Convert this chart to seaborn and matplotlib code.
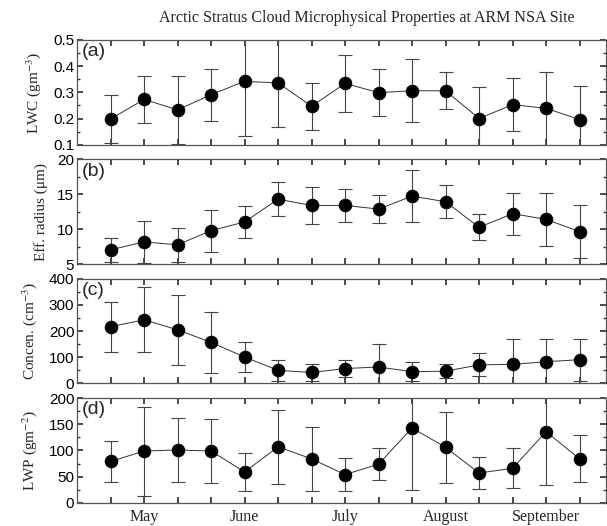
import numpy as np
import pandas as pd
import matplotlib
matplotlib.use("Agg")
import matplotlib.pyplot as plt
import seaborn as sns
from matplotlib.ticker import MultipleLocator

# 10-day bins, May through September
bins = list(range(1, 16))
months = ["May", "June", "July", "August", "September"]
month_pos = [2, 5, 8, 11, 14]

lwc = [0.198, 0.273, 0.233, 0.291, 0.342, 0.336, 0.247, 0.334, 0.299, 0.306, 0.306, 0.200, 0.253, 0.239, 0.196]
lwc_sd = [0.09, 0.09, 0.13, 0.10, 0.21, 0.17, 0.09, 0.11, 0.09, 0.12, 0.07, 0.122, 0.10, 0.139, 0.13]

reff = [7.04, 8.18, 7.76, 9.8, 11.03, 14.3, 13.4, 13.4, 12.88, 14.73, 13.93, 10.27, 12.22, 11.41, 9.65]
reff_sd = [1.69, 3.0, 2.4, 3.0, 2.35, 2.43, 2.7, 2.33, 2.0, 3.75, 2.33, 1.88, 3.0, 3.75, 3.78]

conc = [217, 243, 205, 157, 101, 50, 42, 57, 63, 45, 47, 71, 73, 83, 91]
conc_sd = [95, 124, 134, 117, 58, 39, 32, 34, 86, 37, 28, 44, 96, 86, 80]

lwp = [79, 99, 101, 99, 59, 107, 84, 54, 74, 143, 106, 57, 66, 136, 84]
lwp_sd = [40, 85, 61, 61, 36, 71, 61, 31, 30, 119, 68, 30, 38, 101, 45]

panels = [
    ("(a)", lwc, lwc_sd, r"LWC (gm$^{-3}$)", (0.1, 0.5), 0.1, 0.05),
    ("(b)", reff, reff_sd, "Eff. radius (\u03bcm)", (5, 20), 5, 2.5),
    ("(c)", conc, conc_sd, r"Concen. (cm$^{-3}$)", (0, 400), 100, 50),
    ("(d)", lwp, lwp_sd, r"LWP (gm$^{-2}$)", (0, 200), 50, 25),
]

sns.set_theme(style="ticks")
plt.rcParams["font.family"] = ["Liberation Sans", "DejaVu Sans"]
plt.rcParams["mathtext.fontset"] = "stix"

fig, axes = plt.subplots(4, 1, figsize=(6.07, 5.26), dpi=100, sharex=True)
fig.subplots_adjust(left=0.127, right=0.999, top=0.924, bottom=0.044, hspace=0.14)

for ax, (tag, vals, sd, ylab, ylim, major, minor) in zip(axes, panels):
    df = pd.DataFrame({"bin": bins, "val": vals, "sd": sd})
    ax.errorbar(df["bin"], df["val"], yerr=df["sd"], fmt="none",
                ecolor="#444444", elinewidth=0.8, capsize=5, capthick=0.8, zorder=2)
    sns.lineplot(data=df, x="bin", y="val", ax=ax, color="#333333", linewidth=0.7,
                 marker="o", markersize=9, markerfacecolor="black",
                 markeredgecolor="black", zorder=3)
    ax.set_ylim(*ylim)
    ax.set_xlim(0, 15.8)
    ax.yaxis.set_major_locator(MultipleLocator(major))
    ax.yaxis.set_minor_locator(MultipleLocator(minor))
    ax.set_xticks(bins)
    ax.tick_params(axis="both", which="both", direction="in", top=True, right=True,
                   colors="#333333", labelcolor="black", labelsize=11)
    ax.tick_params(axis="x", which="major", length=4, labelbottom=False)
    ax.tick_params(axis="y", which="major", length=4, pad=2)
    ax.tick_params(axis="y", which="minor", length=2)
    for sp in ax.spines.values():
        sp.set_color("#555555")
        sp.set_linewidth(0.9)
    ax.set_xlabel("")
    ax.set_ylabel(ylab, family=["Liberation Serif"], fontsize=11, labelpad=7)
    ax.text(0.008, 0.97, tag, transform=ax.transAxes, ha="left", va="top", fontsize=14)

axes[-1].set_xticks(bins)
for m, p in zip(months, month_pos):
    axes[-1].text(p, -0.06, m, transform=axes[-1].get_xaxis_transform(),
                  ha="center", va="top", fontsize=11.5, family=["Liberation Serif"])

fig.text(0.605, 0.966, "Arctic Stratus Cloud Microphysical Properties at ARM NSA Site",
         ha="center", va="center", fontsize=11.5, family=["Liberation Serif"])

fig.savefig("out.png", dpi=100)
